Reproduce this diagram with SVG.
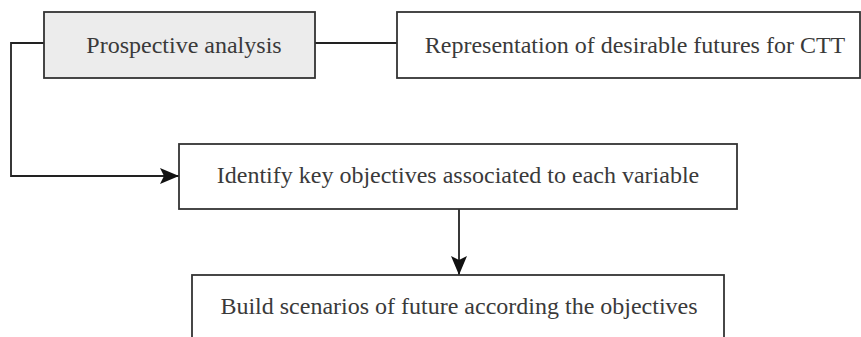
<svg xmlns="http://www.w3.org/2000/svg" width="861" height="337" viewBox="0 0 861 337">
<style>
.box{fill:#ffffff;stroke:#333333;stroke-width:1.8}
.grey{fill:#ececec}
.t{font-family:"Liberation Serif","Times New Roman",serif;font-size:24px;fill:#3a3a3a;text-anchor:middle}
.c{fill:none;stroke:#222222;stroke-width:1.8}
</style>
<defs>
<marker id="ah" markerWidth="19" markerHeight="16" refX="19" refY="8" orient="auto" markerUnits="userSpaceOnUse" viewBox="0 0 19 16">
<path d="M0,0 L19,8 L0,16 L4,8 Z" fill="#111111"/>
</marker>
</defs>
<rect width="861" height="337" fill="#ffffff"/>
<g id="connectors">
<path class="c" d="M315,43 L397,43"/>
<path class="c" d="M44,43 L11,43 L11,176 L179,176" marker-end="url(#ah)"/>
<path class="c" d="M459,209 L459,275" marker-end="url(#ah)"/>
</g>
<g id="prospective">
<rect class="box grey" x="44" y="12" width="271" height="66"/>
<text class="t" x="184" y="53">Prospective analysis</text>
</g>
<g id="representation">
<rect class="box" x="397" y="12" width="463" height="66"/>
<text class="t" x="635" y="53">Representation of desirable futures for CTT</text>
</g>
<g id="identify">
<rect class="box" x="179" y="144" width="558" height="65"/>
<text class="t" x="458" y="183">Identify key objectives associated to each variable</text>
</g>
<g id="build">
<rect class="box" x="192" y="275" width="532" height="70"/>
<text class="t" x="459" y="314">Build scenarios of future according the objectives</text>
</g>
</svg>
